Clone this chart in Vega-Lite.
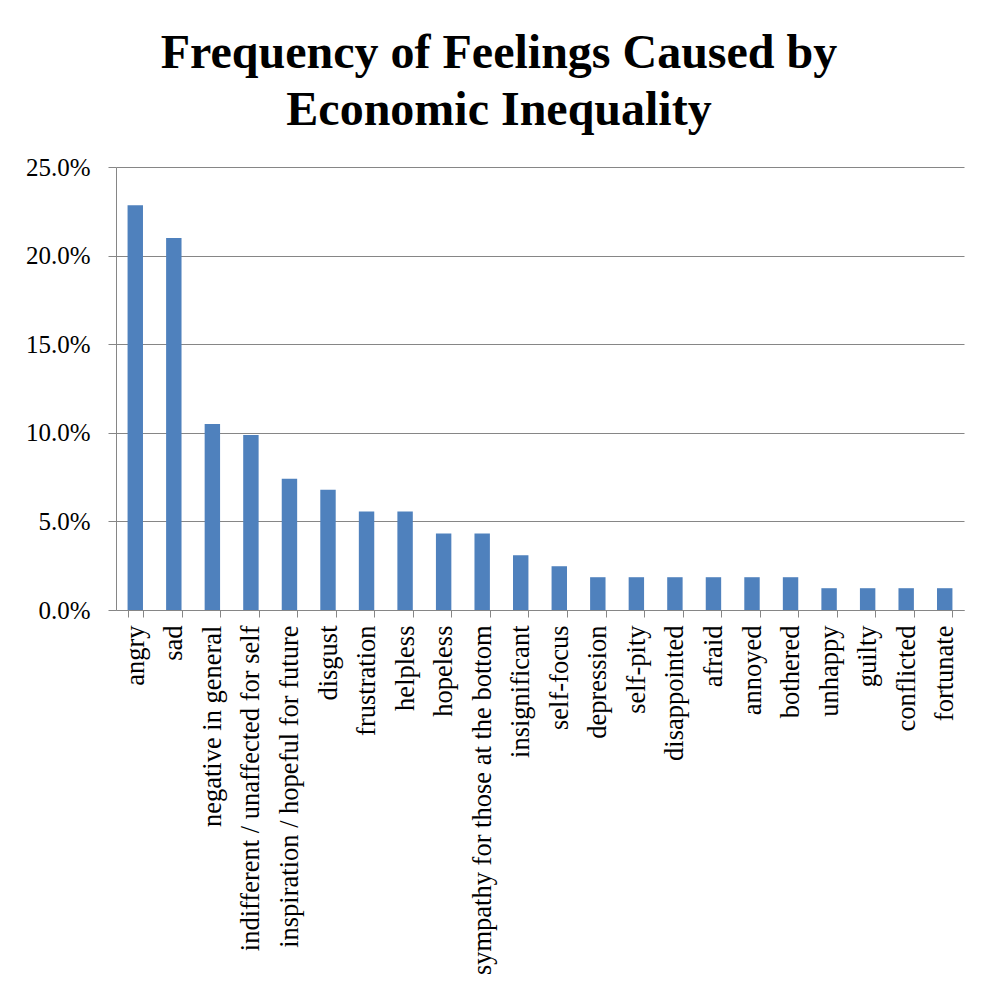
{
  "$schema": "https://vega.github.io/schema/vega-lite/v6.json",
  "width": 848,
  "height": 443,
  "autosize": {"type": "none"},
  "padding": {"left": 116, "top": 167, "right": 23, "bottom": 384},
  "background": "white",
  "title": {
    "text": ["Frequency of Feelings Caused by", "Economic Inequality"],
    "font": "Liberation Serif",
    "fontSize": 48,
    "fontWeight": "bold",
    "color": "black",
    "lineHeight": 57,
    "offset": 20,
    "dx": -41
  },
  "data": {
    "values": [
      {"feeling": "angry", "share": 0.2284},
      {"feeling": "sad", "share": 0.2099},
      {"feeling": "negative in general", "share": 0.1049},
      {"feeling": "indifferent / unaffected for self", "share": 0.0988},
      {"feeling": "inspiration / hopeful for future", "share": 0.0741},
      {"feeling": "disgust", "share": 0.0679},
      {"feeling": "frustration", "share": 0.0556},
      {"feeling": "helpless", "share": 0.0556},
      {"feeling": "hopeless", "share": 0.0432},
      {"feeling": "sympathy for those at the bottom", "share": 0.0432},
      {"feeling": "insignificant", "share": 0.0309},
      {"feeling": "self-focus", "share": 0.0247},
      {"feeling": "depression", "share": 0.0185},
      {"feeling": "self-pity", "share": 0.0185},
      {"feeling": "disappointed", "share": 0.0185},
      {"feeling": "afraid", "share": 0.0185},
      {"feeling": "annoyed", "share": 0.0185},
      {"feeling": "bothered", "share": 0.0185},
      {"feeling": "unhappy", "share": 0.0123},
      {"feeling": "guilty", "share": 0.0123},
      {"feeling": "conflicted", "share": 0.0123},
      {"feeling": "fortunate", "share": 0.0123}
    ]
  },
  "mark": {"type": "bar", "color": "#4F81BD"},
  "encoding": {
    "x": {
      "field": "feeling",
      "type": "nominal",
      "sort": null,
      "title": null,
      "scale": {"paddingInner": 0.6, "paddingOuter": 0.3},
      "axis": {
        "labelAngle": -90,
        "labelAlign": "right",
        "labelBaseline": "middle",
        "labelFont": "Liberation Serif",
        "labelFontSize": 26.5,
        "labelColor": "black",
        "labelPadding": 8,
        "labelLimit": 0,
        "tickBand": "extent",
        "tickSize": 7,
        "tickColor": "#868686",
        "domainColor": "#868686",
        "grid": false
      }
    },
    "y": {
      "field": "share",
      "type": "quantitative",
      "title": null,
      "scale": {"domain": [0, 0.25], "nice": false},
      "axis": {
        "values": [0, 0.05, 0.1, 0.15, 0.2, 0.25],
        "format": ".1%",
        "labelFont": "Liberation Serif",
        "labelFontSize": 25,
        "labelColor": "black",
        "labelPadding": 18,
        "tickSize": 8,
        "tickColor": "#868686",
        "domainColor": "#868686",
        "gridColor": "#868686",
        "gridOpacity": 1
      }
    }
  },
  "config": {
    "view": {"stroke": null}
  }
}
